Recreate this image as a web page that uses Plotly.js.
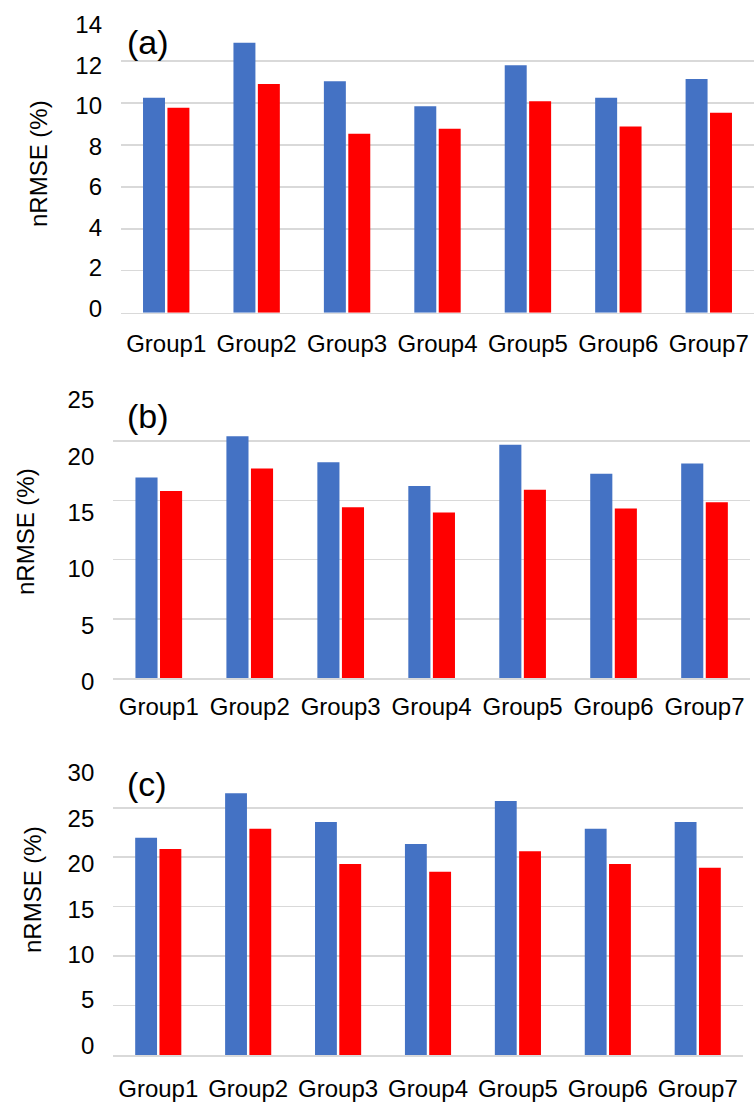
<!DOCTYPE html>
<html>
<head>
<meta charset="utf-8">
<script src="https://cdn.plot.ly/plotly-3.0.1.min.js"></script>
<style>html,body{margin:0;padding:0;background:#fff;}#chart{width:756px;height:1104px;}</style>
</head>
<body>
<div id="chart"></div>
<script>
// ---- data ----
var categories = ['Group1', 'Group2', 'Group3', 'Group4', 'Group5', 'Group6', 'Group7'];
var aBlue = [10.25, 12.87, 11.03, 9.84, 11.79, 10.25, 11.14];
var aRed  = [9.77, 10.90, 8.53, 8.77, 10.08, 8.88, 9.53];
var bBlue = [16.93, 20.41, 18.22, 16.20, 19.68, 17.24, 18.11];
var bRed  = [15.78, 17.69, 14.41, 13.98, 15.89, 14.32, 14.83];
var cBlue = [21.97, 26.46, 23.56, 21.33, 25.68, 22.88, 23.56];
var cRed  = [20.83, 22.88, 19.31, 18.53, 20.60, 19.31, 18.94];
var yTicksA = [0, 2, 4, 6, 8, 10, 12, 14];
var yTicksB = [0, 5, 10, 15, 20, 25];
var yTicksC = [0, 5, 10, 15, 20, 25, 30];
var panelLabels = ['(a)', '(b)', '(c)'];
var yTitle = 'nRMSE (%)';

var BLUE = '#4472C4', RED = '#FF0000', GRID = '#D9D9D9';
var FONT = 'Liberation Sans, Arial, Helvetica, sans-serif';
var W = 756, H = 1104;
function fx(px) { return px / W; }
function fy(py) { return 1 - py / H; }

var panels = [
  {blue: aBlue, red: aRed, ticks: yTicksA, range: [0, 14], xs: 'x', ys: 'y', ls: 'y4',
   xdom: [fx(121), fx(754)], ydom: [fy(312.7), fy(19)], ldom: [fy(308.5), fy(25)], stand: 9},
  {blue: bBlue, red: bRed, ticks: yTicksB, range: [0, 25], xs: 'x2', ys: 'y2', ls: 'y5',
   xdom: [fx(113.3), fx(750)], ydom: [fy(678.3), fy(381.7)], ldom: [fy(681.7), fy(400)], stand: 6},
  {blue: cBlue, red: cRed, ticks: yTicksC, range: [0, 30], xs: 'x3', ys: 'y3', ls: 'y6',
   xdom: [fx(113.3), fx(742.7)], ydom: [fy(1055), fy(758.3)], ldom: [fy(1045.3), fy(773)], stand: 12}
];

var data = [];
var layout = {
  width: W, height: H,
  margin: {l: 0, r: 0, t: 0, b: 0},
  paper_bgcolor: '#ffffff',
  plot_bgcolor: 'rgba(0,0,0,0)',
  showlegend: false,
  barmode: 'group',
  bargap: 0.46,
  bargroupgap: 0.1,
  font: {family: FONT, size: 24, color: '#000000'},
  annotations: []
};

var titleX = [38, 26, 32];
var titleY = [164, 532, 890];
var labelY = [42, 416, 784];

panels.forEach(function (p, i) {
  var xName = 'xaxis' + (i === 0 ? '' : (i + 1));
  var yName = 'yaxis' + (i === 0 ? '' : (i + 1));
  var lName = 'yaxis' + (i + 4);
  data.push({type: 'bar', x: categories, y: p.blue, xaxis: p.xs, yaxis: p.ys,
             marker: {color: BLUE, line: {width: 0}}, name: 'blue', hoverinfo: 'x+y'});
  data.push({type: 'bar', x: categories, y: p.red, xaxis: p.xs, yaxis: p.ys,
             marker: {color: RED, line: {width: 0}}, name: 'red', hoverinfo: 'x+y'});
  // empty trace so that the tick-label axis forms a subplot
  data.push({type: 'scatter', mode: 'markers', x: [], y: [], xaxis: p.xs, yaxis: p.ls,
             showlegend: false, hoverinfo: 'skip'});

  layout[xName] = {
    domain: p.xdom, anchor: p.ys, type: 'category',
    showline: true, linecolor: GRID, linewidth: 1.5,
    showgrid: false, zeroline: false, ticks: '',
    tickfont: {family: FONT, size: 24, color: '#000000'},
    ticklabelstandoff: p.stand,
    fixedrange: true
  };
  layout[yName] = {
    domain: p.ydom, anchor: p.xs, range: p.range,
    tickvals: p.ticks, showticklabels: false,
    showgrid: true, gridcolor: GRID, gridwidth: 1.5,
    zeroline: false, showline: false, ticks: '', fixedrange: true
  };
  layout[lName] = {
    domain: p.ldom, anchor: p.xs, range: p.range,
    tickvals: p.ticks, ticktext: p.ticks.map(String),
    showgrid: false, zeroline: false, showline: false, ticks: '',
    tickfont: {family: FONT, size: 24, color: '#000000'},
    ticklabelstandoff: 18, fixedrange: true
  };
  layout.annotations.push({
    text: yTitle, textangle: -90, xref: 'paper', yref: 'paper',
    x: fx(titleX[i]), y: fy(titleY[i]), xanchor: 'center', yanchor: 'middle',
    showarrow: false, font: {family: FONT, size: 24, color: '#000000'}
  });
  layout.annotations.push({
    text: panelLabels[i], xref: 'paper', yref: 'paper',
    x: fx(125), y: fy(labelY[i]), xanchor: 'left', yanchor: 'middle',
    showarrow: false, font: {family: FONT, size: 34, color: '#000000'}
  });
});

Plotly.newPlot('chart', data, layout, {staticPlot: true, displayModeBar: false});
</script>
</body>
</html>
